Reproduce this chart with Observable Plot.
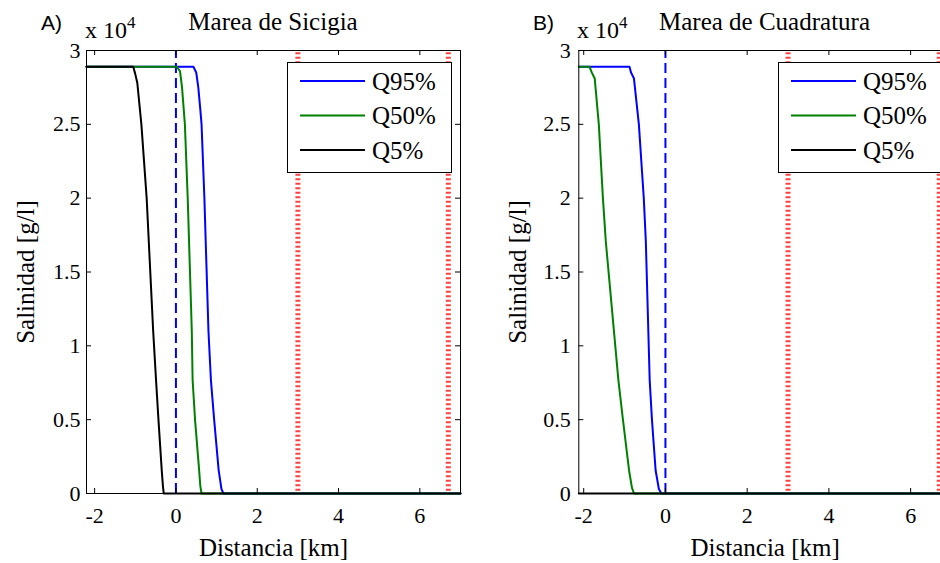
<!DOCTYPE html>
<html>
<head>
<meta charset="utf-8">
<script src="https://cdn.jsdelivr.net/npm/d3@7"></script>
<script src="https://cdn.jsdelivr.net/npm/@observablehq/plot@0.6"></script>
<style>
  html, body { margin: 0; padding: 0; background: #fff; overflow: hidden; }
  #wrap { position: relative; width: 940px; height: 563px; overflow: hidden; background: #fff; }
  .panel { position: absolute; top: 0; width: 520px; height: 563px; }
  .panel svg { max-width: none !important; overflow: visible; font-family: 'Liberation Serif', 'Times New Roman', serif !important; font-size: 22px !important; }
  .panel svg text { font-family: 'Liberation Serif', 'Times New Roman', serif !important; }
  #overlay { position: absolute; left: 0; top: 0; pointer-events: none; }
</style>
</head>
<body>
<div id="wrap">
  <div id="pa" class="panel" style="left:0px"></div>
  <div id="pb" class="panel" style="left:470px"></div>
  <svg id="overlay" width="940" height="563"></svg>
</div>
<script>
// ---------- DATA ----------
const seriesNames = ["Q95%", "Q50%", "Q5%"];
const seriesColors = ["#0000ff", "#008000", "#000000"];

const xTicks = [-2, 0, 2, 4, 6];
const yTicks = [0, 5000, 10000, 15000, 20000, 25000, 30000];
const yTickLabels = ["0", "0.5", "1", "1.5", "2", "2.5", "3"];

const refLineX = [0];          // blue dashed reference
const redLinesX = [3, 6.7];    // red dotted reference

// Panel A - Marea de Sicigia
const distA_Q95 = [-2.2, 0.43, 0.5, 0.55, 0.6, 0.63, 0.70, 0.75, 0.80, 0.86, 0.94, 1.05, 1.12, 1.17, 7];
const salA_Q95  = [28900, 28900, 28500, 27500, 26000, 25000, 20000, 15500, 11000, 7700, 5000, 1600, 300, 0, 0];
const distA_Q50 = [-2.2, 0.02, 0.1, 0.15, 0.22, 0.29, 0.34, 0.39, 0.41, 0.47, 0.57, 0.60, 0.63, 7];
const salA_Q50  = [28900, 28900, 28600, 27500, 25000, 20000, 15500, 11000, 7700, 5000, 1600, 500, 0, 0];
const distA_Q5  = [-2.2, -1.05, -1.0, -0.95, -0.85, -0.72, -0.56, -0.49, -0.43, -0.35, -0.32, -0.30, 7];
const salA_Q5   = [28900, 28900, 28400, 27800, 25000, 20000, 11000, 7700, 5000, 1600, 500, 0, 0];

// Panel B - Marea de Cuadratura
const distB_Q95 = [-2.12, -0.88, -0.84, -0.77, -0.65, -0.53, -0.48, -0.385, -0.33, -0.24, -0.16, -0.10, 7];
const salB_Q95  = [28900, 28900, 28500, 28100, 25000, 20000, 17100, 7650, 5000, 1560, 300, 0, 0];
const distB_Q50 = [-2.12, -1.86, -1.80, -1.73, -1.63, -1.53, -1.46, -1.15, -1.04, -0.89, -0.82, -0.77, 7];
const salB_Q50  = [28900, 28900, 28500, 28100, 25000, 20000, 17100, 7650, 5000, 1560, 400, 0, 0];
const distB_Q5  = [-2.12, 7];
const salB_Q5   = [0, 0];

// ---------- BUILD ----------
function table(xs, ys, name) { return xs.map((x, i) => ({x, y: ys[i], s: name})); }
const dataA = [
  ...table(distA_Q95, salA_Q95, "Q95%"),
  ...table(distA_Q50, salA_Q50, "Q50%"),
  ...table(distA_Q5, salA_Q5, "Q5%")
];
const dataB = [
  ...table(distB_Q95, salB_Q95, "Q95%"),
  ...table(distB_Q50, salB_Q50, "Q50%"),
  ...table(distB_Q5, salB_Q5, "Q5%")
];

const FONT = "'Liberation Serif', 'Times New Roman', serif";

function panel({data, xDomain, width, marginLeft, marginRight, yPad}) {
  const height = 563, marginTop = 50, marginBottom = 70;
  const H = height - marginTop - marginBottom;
  const W = width - marginLeft - marginRight;
  const tickFmt = d => yTickLabels[yTicks.indexOf(d)];
  return Plot.plot({
    width, height, marginLeft, marginRight, marginTop, marginBottom,
    style: {fontFamily: FONT, fontSize: "22px", color: "#000", background: "transparent", overflow: "visible"},
    x: {domain: xDomain, axis: null},
    y: {domain: [0, 30000], axis: null},
    color: {domain: seriesNames, range: seriesColors},
    marks: [
      Plot.ruleX(redLinesX, {x: d => d, y1: 150, y2: 29850, stroke: "#ff0000", strokeOpacity: 0.75, strokeWidth: 5, strokeDasharray: "2,2.5"}),
      Plot.ruleX(refLineX, {x: d => d, y1: 0, y2: 30000, stroke: "#0000ff", strokeWidth: 2, strokeDasharray: "10,5"}),
      Plot.line(data, {x: "x", y: "y", z: "s", stroke: "s", strokeWidth: 2, curve: "linear"}),
      Plot.frame({stroke: "#000", strokeWidth: 1}),
      Plot.tickX(xTicks, {x: d => d, insetTop: H - 5, stroke: "#000"}),
      Plot.tickX(xTicks, {x: d => d, insetBottom: H - 5, stroke: "#000"}),
      Plot.tickY(yTicks, {y: d => d, insetRight: W - 5, stroke: "#000"}),
      Plot.tickY(yTicks, {y: d => d, insetLeft: W - 5, stroke: "#000"}),
      Plot.axisX(xTicks, {anchor: "bottom", tickSize: 0, tickPadding: 14, tickFormat: d => String(d), label: null, fontSize: 22, fontFamily: FONT, fill: "#000"}),
      Plot.axisY(yTicks, {anchor: "left", tickSize: 0, tickPadding: yPad, tickFormat: tickFmt, label: null, fontSize: 22, fontFamily: FONT, fill: "#000"}),
      Plot.text(["Distancia [km]"], {frameAnchor: "bottom", dy: 62, lineAnchor: "bottom", textAnchor: "middle", text: d => d, fontSize: 25, fontFamily: FONT, fill: "#000"}),
      Plot.text(["Salinidad [g/l]"], {frameAnchor: "left", dx: -61, rotate: -90, lineAnchor: "middle", textAnchor: "middle", text: d => d, fontSize: 25, fontFamily: FONT, fill: "#000"})
    ]
  });
}

document.getElementById("pa").appendChild(panel({data: dataA, xDomain: [-2.2, 7], width: 470, marginLeft: 86, marginRight: 10, yPad: 6}));
document.getElementById("pb").appendChild(panel({data: dataB, xDomain: [-2.12, 7], width: 490, marginLeft: 108.3, marginRight: 9, yPad: 8}));

// ---------- ANNOTATIONS & LEGENDS ----------
const ov = d3.select("#overlay");
function annot(letter, lx, x10x, titleCx, title) {
  ov.append("text").attr("x", lx).attr("y", 30).attr("font-family", "'Liberation Sans', Arial, sans-serif")
    .attr("font-size", 21).attr("fill", "#000").text(letter);
  const t = ov.append("text").attr("x", x10x).attr("y", 38).attr("font-family", FONT).attr("font-size", 24).attr("fill", "#000");
  t.append("tspan").text("x 10");
  t.append("tspan").attr("font-size", 17).attr("dy", -10).text("4");
  ov.append("text").attr("x", titleCx).attr("y", 30).attr("text-anchor", "middle").attr("font-family", FONT)
    .attr("font-size", 25).attr("fill", "#000").text(title);
}
annot("A)", 41, 85, 273, "Marea de Sicigia");
annot("B)", 533, 577, 764.5, "Marea de Cuadratura");

function legend(left) {
  const g = ov.append("g").attr("transform", `translate(${left},62)`);
  g.append("rect").attr("x", 0.5).attr("y", 0.5).attr("width", 164).attr("height", 110)
    .attr("fill", "#fff").attr("stroke", "#000").attr("stroke-width", 1);
  seriesNames.forEach((name, i) => {
    const y = 19 + i * 34.5;
    g.append("line").attr("x1", 13).attr("x2", 78).attr("y1", y).attr("y2", y)
      .attr("stroke", seriesColors[i]).attr("stroke-width", 2);
    g.append("text").attr("x", 85).attr("y", y).attr("dy", "0.34em").attr("font-family", FONT)
      .attr("font-size", 25).attr("fill", "#000").text(name);
  });
}
legend(287);
legend(778);
</script>
</body>
</html>
